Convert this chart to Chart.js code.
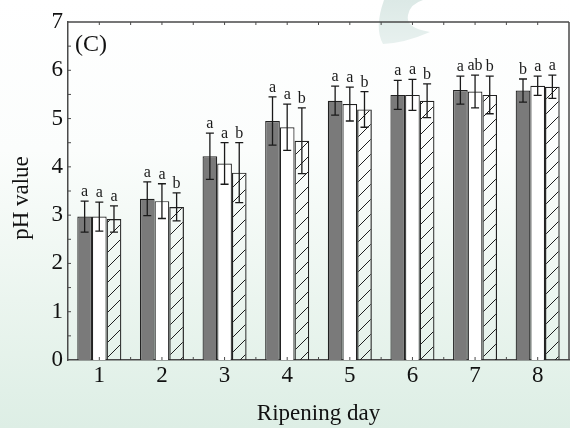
<!DOCTYPE html>
<html>
<head>
<meta charset="utf-8">
<script src="https://cdn.jsdelivr.net/npm/chart.js@4/dist/chart.umd.min.js"></script>
<style>
  html, body { margin: 0; padding: 0; background: #ffffff; }
  #wrap { width: 570px; height: 428px; position: relative; }
</style>
</head>
<body>
<div id="wrap"><canvas id="c" width="570" height="428"></canvas></div>
<script>
// Ripening days on the x axis
const days = ['1', '2', '3', '4', '5', '6', '7', '8'];
const yTicks = [0, 1, 2, 3, 4, 5, 6, 7];

// Mean pH for the three treatments
const phGray    = [2.97, 3.34, 4.22, 4.95, 5.37, 5.49, 5.59, 5.58];
const phWhite   = [2.97, 3.29, 4.07, 4.82, 5.30, 5.49, 5.56, 5.68];
const phHatched = [2.92, 3.17, 3.88, 4.54, 5.19, 5.37, 5.49, 5.66];

// Standard deviations (error bars)
const sdGray    = [0.32, 0.35, 0.48, 0.50, 0.30, 0.30, 0.29, 0.24];
const sdWhite   = [0.30, 0.36, 0.43, 0.48, 0.35, 0.32, 0.34, 0.20];
const sdHatched = [0.27, 0.29, 0.62, 0.68, 0.37, 0.35, 0.39, 0.24];

// Significance letters above each bar
const sigGray    = ['a', 'a', 'a', 'a', 'a', 'a', 'a', 'b'];
const sigWhite   = ['a', 'a', 'a', 'a', 'a', 'a', 'ab', 'a'];
const sigHatched = ['a', 'b', 'b', 'b', 'b', 'b', 'b', 'a'];

const SERIF = "'Liberation Serif', 'Times New Roman', Times, serif";
const INK = '#111111';
const AXIS = '#4a4a4a';

function hatchPattern() {
  const s = 15;
  const c = document.createElement('canvas');
  c.width = s; c.height = s;
  const g = c.getContext('2d');
  g.strokeStyle = '#1e1e1e';
  g.lineWidth = 1;
  g.beginPath();
  g.moveTo(0, s); g.lineTo(s, 0);
  g.moveTo(-2, 2); g.lineTo(2, -2);
  g.moveTo(s - 2, s + 2); g.lineTo(s + 2, s - 2);
  g.stroke();
  return g.createPattern(c, 'repeat');
}

const errInfo = [
  { values: phGray, sd: sdGray, sig: sigGray },
  { values: phWhite, sd: sdWhite, sig: sigWhite },
  { values: phHatched, sd: sdHatched, sig: sigHatched }
];

// Soft mint page background with a faint leaf mark near the top
const backdrop = {
  id: 'backdrop',
  beforeDraw(chart) {
    const { ctx, width, height } = chart;
    ctx.save();
    const g = ctx.createLinearGradient(0, 0, 0, height);
    g.addColorStop(0, '#ffffff');
    g.addColorStop(0.35, '#fbfdfc');
    g.addColorStop(0.7, '#ebf5ef');
    g.addColorStop(1, '#ddeee5');
    ctx.fillStyle = g;
    ctx.fillRect(0, 0, width, height);
    const leaf = ctx.createLinearGradient(0, 0, 0, 46);
    leaf.addColorStop(0, '#dce9e6');
    leaf.addColorStop(1, '#e8f1ef');
    ctx.fillStyle = leaf;
    ctx.beginPath();
    ctx.moveTo(384, 0);
    ctx.quadraticCurveTo(374, 28, 383, 44);
    ctx.quadraticCurveTo(405, 43, 430, 32);
    ctx.quadraticCurveTo(405, 28, 408, 15);
    ctx.quadraticCurveTo(410, 4, 423, 0);
    ctx.closePath();
    ctx.fill();
    ctx.restore();
  }
};

// Error bars and significance letters
const errorBars = {
  id: 'errorBars',
  afterDatasetsDraw(chart) {
    const { ctx } = chart;
    const y = chart.scales.y;
    ctx.save();
    ctx.font = '16px ' + SERIF;
    ctx.textAlign = 'center';
    ctx.textBaseline = 'alphabetic';
    errInfo.forEach((s, i) => {
      const meta = chart.getDatasetMeta(i);
      meta.data.forEach((bar, j) => {
        const v = s.values[j], e = s.sd[j];
        const yt = y.getPixelForValue(v + e);
        const yb = y.getPixelForValue(v - e);
        ctx.strokeStyle = '#1a1a1a';
        ctx.lineWidth = 1.3;
        ctx.beginPath();
        ctx.moveTo(bar.x, yt); ctx.lineTo(bar.x, yb);
        ctx.moveTo(bar.x - 4, yt); ctx.lineTo(bar.x + 4, yt);
        ctx.moveTo(bar.x - 4, yb); ctx.lineTo(bar.x + 4, yb);
        ctx.stroke();
        ctx.fillStyle = '#1a1a1a';
        ctx.fillText(s.sig[j], bar.x, yt - 5);
      });
    });
    ctx.restore();
  }
};

// Closed frame with small inward ticks, the y title and the panel tag
const frame = {
  id: 'frame',
  afterDraw(chart) {
    const { ctx, chartArea: a } = chart;
    const y = chart.scales.y;
    ctx.save();
    ctx.strokeStyle = AXIS;
    ctx.lineWidth = 1.5;
    ctx.beginPath();
    ctx.moveTo(a.left, a.top); ctx.lineTo(a.right, a.top);
    ctx.moveTo(a.right, a.top); ctx.lineTo(a.right, a.bottom);
    ctx.stroke();
    ctx.lineWidth = 1;
    ctx.beginPath();
    const step = (a.right - a.left) / days.length / 2;
    for (let k = 1; k < days.length * 2; k++) {
      const px = a.left + k * step;
      ctx.moveTo(px, a.top); ctx.lineTo(px, a.top + 3);
      ctx.moveTo(px, a.bottom); ctx.lineTo(px, a.bottom - 3);
    }
    for (let v = 0.5; v < 7; v += 0.5) {
      const py = y.getPixelForValue(v);
      ctx.moveTo(a.left, py); ctx.lineTo(a.left + 3, py);
    }
    ctx.stroke();
    ctx.fillStyle = INK;
    ctx.font = '24px ' + SERIF;
    ctx.textAlign = 'left';
    ctx.textBaseline = 'alphabetic';
    ctx.fillText('(C)', 75, 51);

    ctx.font = '23px ' + SERIF;
    ctx.textAlign = 'center';
    ctx.textBaseline = 'middle';
    ctx.translate(22, 198);
    ctx.rotate(-Math.PI / 2);
    ctx.fillText('pH value', 0, 0);
    ctx.restore();
  }
};

new Chart(document.getElementById('c'), {
  type: 'bar',
  data: {
    labels: days,
    datasets: [
      { label: 'Gray', data: phGray, backgroundColor: '#7a7a7a', borderColor: '#222222', borderWidth: 1.2 },
      { label: 'White', data: phWhite, backgroundColor: '#ffffff', borderColor: '#222222', borderWidth: 1.2 },
      { label: 'Hatched', data: phHatched, backgroundColor: hatchPattern(), borderColor: '#222222', borderWidth: 1.2 }
    ]
  },
  options: {
    responsive: false,
    devicePixelRatio: 1,
    animation: false,
    layout: { padding: { top: 22, right: 1, left: 0, bottom: 0 } },
    datasets: { bar: { barPercentage: 1, categoryPercentage: 0.703 } },
    plugins: { legend: { display: false }, tooltip: { enabled: false } },
    scales: {
      x: {
        grid: { display: false, drawTicks: false },
        border: { display: true, color: AXIS, width: 1.5 },
        ticks: { font: { family: SERIF, size: 23 }, color: INK, padding: 2 },
        title: { display: true, text: 'Ripening day', color: INK, font: { family: SERIF, size: 23 }, padding: { top: 0, bottom: 0 } },
        afterFit: s => { s.height = 68; }
      },
      y: {
        min: 0, max: 7,
        afterBuildTicks: s => { s.ticks = yTicks.map(v => ({ value: v })); },
        grid: { display: false, drawTicks: false },
        border: { display: true, color: AXIS, width: 1.5 },
        ticks: { font: { family: SERIF, size: 23 }, color: INK, padding: 5 },
        afterFit: s => { s.width = 68; }
      }
    }
  },
  plugins: [backdrop, errorBars, frame]
});
</script>
</body>
</html>
